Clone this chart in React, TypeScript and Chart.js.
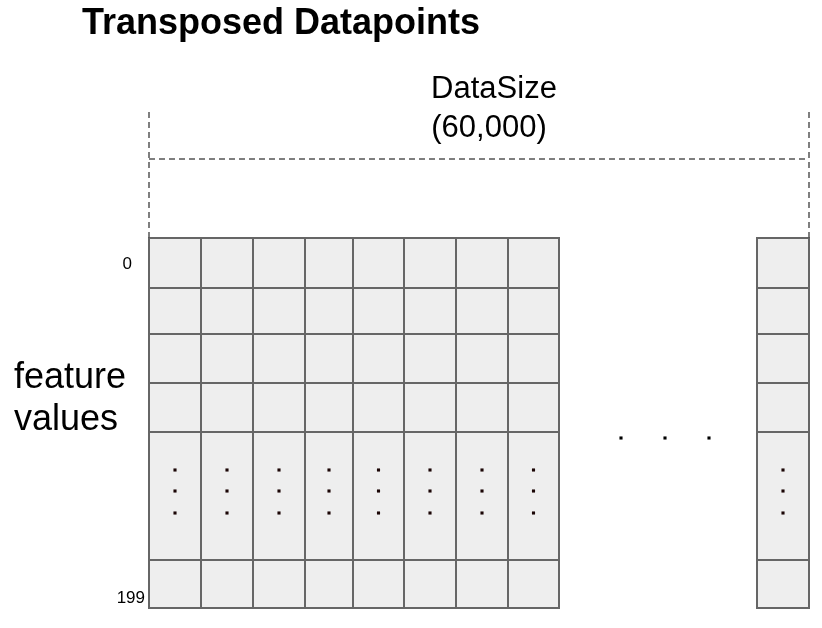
import { useEffect, useRef } from 'react';
import { Chart, registerables } from 'chart.js';

Chart.register(...registerables);

// grid geometry in diagram units (x right, y down)
const colEdges = [149, 201, 253, 305, 353, 404, 456, 508, 559];
const lastCol = [757, 809];
const rowEdges = [238, 288, 334, 383, 432, 560, 608];
const vDotYs = [470, 491, 513];
const hDots = [621, 665, 709];
const bracket = { left: 149, right: 809, top: 112, bar: 159, bottom: 238 };

const colCenters = [
  ...colEdges.slice(0, -1).map((x, i) => (x + colEdges[i + 1]) / 2),
  (lastCol[0] + lastCol[1]) / 2,
];

const gridPlugin = {
  id: 'grid',
  beforeDatasetsDraw(chart: Chart) {
    const { ctx } = chart;
    const xs = chart.scales.x;
    const ys = chart.scales.y;
    const px = (v: number) => xs.getPixelForValue(v);
    const py = (v: number) => ys.getPixelForValue(v);
    ctx.save();
    const cols: [number, number][] = colEdges.slice(0, -1).map((x, i) => [x, colEdges[i + 1]]);
    cols.push([lastCol[0], lastCol[1]]);
    ctx.lineWidth = 2;
    ctx.strokeStyle = '#666666';
    ctx.fillStyle = '#eeeeee';
    for (const [x0, x1] of cols) {
      for (let r = 0; r < rowEdges.length - 1; r++) {
        const y0 = rowEdges[r], y1 = rowEdges[r + 1];
        ctx.fillRect(px(x0), py(y0), px(x1) - px(x0), py(y1) - py(y0));
        ctx.strokeRect(px(x0), py(y0), px(x1) - px(x0), py(y1) - py(y0));
      }
    }
    // dashed bracket
    ctx.setLineDash([6, 4]);
    ctx.lineWidth = 1.5;
    ctx.strokeStyle = '#555555';
    ctx.beginPath();
    ctx.moveTo(px(bracket.left), py(bracket.top));
    ctx.lineTo(px(bracket.left), py(bracket.bottom));
    ctx.moveTo(px(bracket.right), py(bracket.top));
    ctx.lineTo(px(bracket.right), py(bracket.bottom));
    ctx.moveTo(px(bracket.left), py(bracket.bar));
    ctx.lineTo(px(bracket.right), py(bracket.bar));
    ctx.stroke();
    ctx.setLineDash([]);
    // texts
    ctx.fillStyle = '#000';
    ctx.textBaseline = 'alphabetic';
    ctx.font = 'bold 36px "Liberation Sans", Arial, sans-serif';
    ctx.textAlign = 'left';
    ctx.fillText('Transposed Datapoints', px(82), py(34));
    ctx.font = '31px "Liberation Sans", Arial, sans-serif';
    ctx.textAlign = 'center';
    ctx.fillText('DataSize', px(494), py(98));
    ctx.fillText('(60,000)', px(489), py(137));
    ctx.font = '36px "Liberation Sans", Arial, sans-serif';
    ctx.textAlign = 'left';
    ctx.fillText('feature', px(14), py(388));
    ctx.fillText('values', px(14), py(430));
    ctx.font = '17px "Liberation Sans", Arial, sans-serif';
    ctx.textAlign = 'right';
    ctx.fillText('0', px(132), py(269));
    ctx.fillText('199', px(145), py(603));
    ctx.restore();
  },
};

export default function App() {
  const ref = useRef<HTMLCanvasElement>(null);
  useEffect(() => {
    document.body.style.margin = '0';
    if (!ref.current) return;
    const vDots = colCenters.flatMap((x) => vDotYs.map((y) => ({ x, y })));
    const hDotPts = hDots.map((x) => ({ x, y: 438 }));
    const chart = new Chart(ref.current, {
      type: 'scatter',
      data: {
        datasets: [
          { data: vDots, pointRadius: 2.2, pointStyle: 'rect', backgroundColor: '#1a0505', borderWidth: 0 },
          { data: hDotPts, pointRadius: 2.2, pointStyle: 'rect', backgroundColor: '#000', borderWidth: 0 },
        ],
      },
      options: {
        animation: false,
        responsive: false,
        layout: { padding: 0, autoPadding: false },
        plugins: { legend: { display: false }, tooltip: { enabled: false } },
        scales: {
          x: { type: 'linear', min: 0, max: 822, display: false },
          y: { type: 'linear', min: 0, max: 628, reverse: true, display: false },
        },
      },
      plugins: [gridPlugin],
    });
    return () => chart.destroy();
  }, []);
  return (
    <div style={{ width: 822, height: 628, background: '#fff' }}>
      <canvas ref={ref} width={822} height={628} />
    </div>
  );
}
